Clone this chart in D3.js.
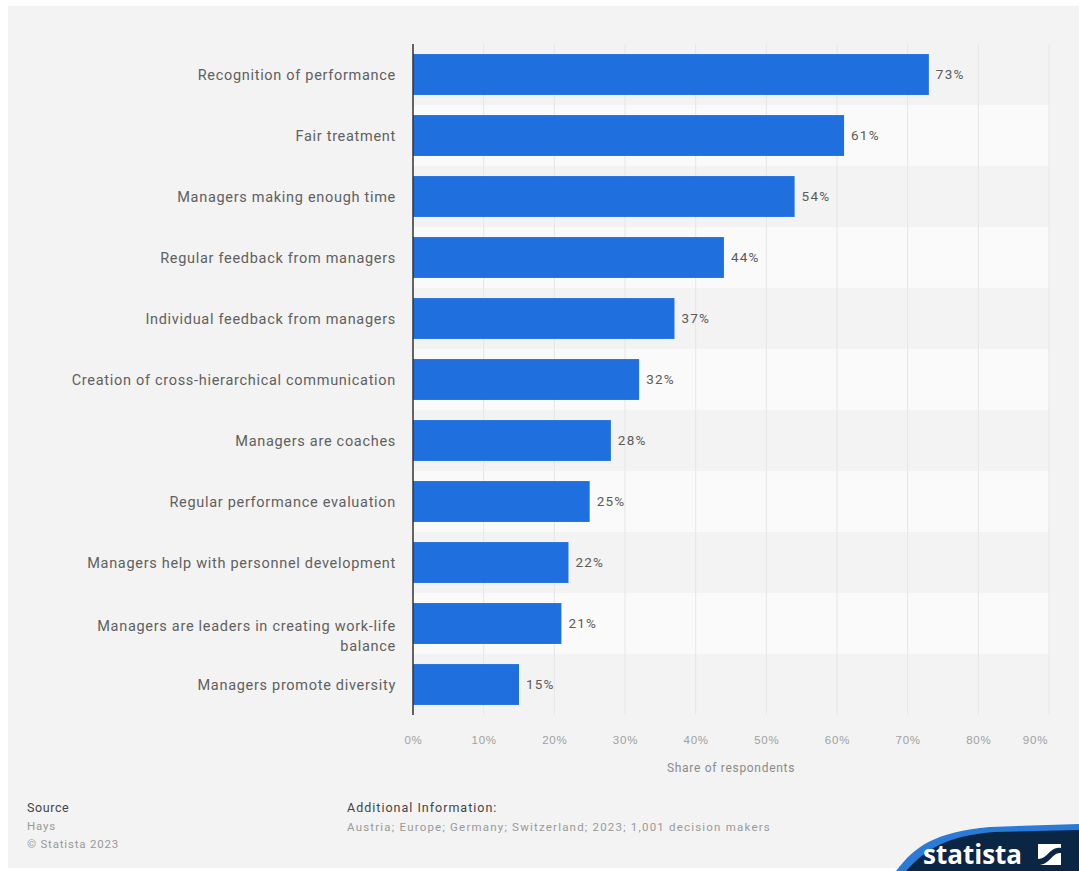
<!DOCTYPE html>
<html>
<head>
<meta charset="utf-8">
<script src="https://cdn.jsdelivr.net/npm/d3@7"></script>
<style>
  body { margin: 0; background: #fff; }
  svg { display: block; font-family: Roboto, "Liberation Sans", Arial, sans-serif; }
  .cat { fill: #606060; font-size: 14.5px; letter-spacing: 0.7px; }
  .val { fill: #5a5a5a; font-size: 13.5px; letter-spacing: 1.2px; }
  .tick text { fill: #a0a0a0; font-size: 11.5px; letter-spacing: 0.8px; }
</style>
</head>
<body>
<svg id="chart" width="1079" height="871"></svg>
<script>
var categories = [
  "Recognition of performance",
  "Fair treatment",
  "Managers making enough time",
  "Regular feedback from managers",
  "Individual feedback from managers",
  "Creation of cross-hierarchical communication",
  "Managers are coaches",
  "Regular performance evaluation",
  "Managers help with personnel development",
  "Managers are leaders in creating work-life balance",
  "Managers promote diversity"
];
var values = [73, 61, 54, 44, 37, 32, 28, 25, 22, 21, 15];
var tickValues = [0, 10, 20, 30, 40, 50, 60, 70, 80, 90];

var svg = d3.select("#chart");
var plotLeft = 413, plotRight = 1049, plotTop = 44, plotBottom = 715;

// page background
svg.append("rect").attr("x", 8).attr("y", 6).attr("width", 1071).attr("height", 862).attr("fill", "#f3f3f3");

var x = d3.scaleLinear().domain([0, 90]).range([plotLeft, plotRight]);
var y = d3.scaleBand().domain(categories).range([plotTop, plotBottom]).paddingInner(0.33).paddingOuter(0.165);
var step = y.step();

// alternating stripes
svg.append("g").selectAll("rect")
  .data(categories)
  .enter().append("rect")
  .attr("x", plotLeft)
  .attr("y", function(d) { return y(d) - y.paddingInner() * step / 2; })
  .attr("width", plotRight - plotLeft)
  .attr("height", step)
  .attr("fill", function(d, i) { return i % 2 ? "#fafafa" : "#f3f3f3"; });

// gridlines
svg.append("g").selectAll("line")
  .data(tickValues.slice(1))
  .enter().append("line")
  .attr("x1", function(d) { return x(d); })
  .attr("x2", function(d) { return x(d); })
  .attr("y1", plotTop)
  .attr("y2", plotBottom)
  .attr("stroke", "#e6e6e6")
  .attr("stroke-width", 1);

// bars
svg.append("g").selectAll("rect")
  .data(values)
  .enter().append("rect")
  .attr("x", plotLeft)
  .attr("y", function(d, i) { return y(categories[i]); })
  .attr("width", function(d) { return x(d) - plotLeft; })
  .attr("height", y.bandwidth())
  .attr("fill", "#1f6fde");

// value labels
svg.append("g").selectAll("text")
  .data(values)
  .enter().append("text")
  .attr("class", "val")
  .attr("x", function(d) { return x(d) + 7; })
  .attr("y", function(d, i) { return y(categories[i]) + y.bandwidth() / 2; })
  .attr("dy", ".35em")
  .text(function(d) { return d + "%"; });

// category labels (wrap long ones)
var catG = svg.append("g");
categories.forEach(function(c, i) {
  var cy = y(c) + y.bandwidth() / 2;
  var lines = c.length > 46 ? ["Managers are leaders in creating work-life", "balance"] : [c];
  var t = catG.append("text").attr("class", "cat").attr("text-anchor", "end");
  lines.forEach(function(l, j) {
    t.append("tspan")
      .attr("x", 396)
      .attr("y", cy + (lines.length > 1 ? 2 + j * 20 : 0))
      .attr("dy", ".35em")
      .text(l);
  });
});

// y axis line
svg.append("line")
  .attr("x1", plotLeft).attr("x2", plotLeft)
  .attr("y1", plotTop).attr("y2", plotBottom)
  .attr("stroke", "#333").attr("stroke-width", 1.5);

// x axis ticks
var xAxis = svg.append("g")
  .attr("transform", "translate(0," + (plotBottom + 14) + ")")
  .call(d3.axisBottom(x).tickValues(tickValues).tickSize(0).tickFormat(function(d) { return d + "%"; }));
xAxis.select(".domain").remove();
xAxis.selectAll(".tick text").attr("dy", "1em");
xAxis.selectAll(".tick").filter(function(d) { return d === 90; }).select("text").attr("dx", "-14px");

svg.append("text")
  .attr("x", 731).attr("y", 772)
  .attr("text-anchor", "middle")
  .attr("fill", "#8a8a8a").attr("font-size", "12px").attr("letter-spacing", "0.7px")
  .text("Share of respondents");

// footer
svg.append("text").attr("x", 27).attr("y", 812).attr("fill", "#444").attr("font-size", "12.5px").attr("letter-spacing", "0.6px").text("Source");
svg.append("text").attr("x", 27).attr("y", 830).attr("fill", "#999").attr("font-size", "11.5px").attr("letter-spacing", "0.8px").text("Hays");
svg.append("text").attr("x", 27).attr("y", 848).attr("fill", "#999").attr("font-size", "11.5px").attr("letter-spacing", "0.8px").text("\u00a9 Statista 2023");
svg.append("text").attr("x", 347).attr("y", 812).attr("fill", "#444").attr("font-size", "12.5px").attr("letter-spacing", "1px").text("Additional Information:");
svg.append("text").attr("x", 347).attr("y", 831).attr("fill", "#999").attr("font-size", "11.5px").attr("letter-spacing", "1.2px")
  .text("Austria; Europe; Germany; Switzerland; 2023; 1,001 decision makers");

// logo swoosh
svg.append("path")
  .attr("d", "M896,871 C915,846 935,832 990,827 L1079,824 L1079,871 Z")
  .attr("fill", "#2a7ad8");
svg.append("path")
  .attr("d", "M906,871 C925,850 945,836 995,832 L1079,830 L1079,871 Z")
  .attr("fill", "#0b2545");
svg.append("text")
  .attr("x", 923).attr("y", 864)
  .attr("fill", "#fff").attr("font-size", "26px").attr("font-weight", "bold")
  .attr("font-family", "'Open Sans', Roboto, sans-serif")
  .attr("letter-spacing", "0")
  .text("statista");
svg.append("rect").attr("x", 1038).attr("y", 844).attr("width", 23).attr("height", 21).attr("fill", "#fff");
svg.append("path")
  .attr("d", "M1038,865 L1038,859 C1048,859 1050,846 1061,848 L1061,853 C1052,852 1050,865 1038,865 Z")
  .attr("fill", "#0b2545");
</script>
</body>
</html>
